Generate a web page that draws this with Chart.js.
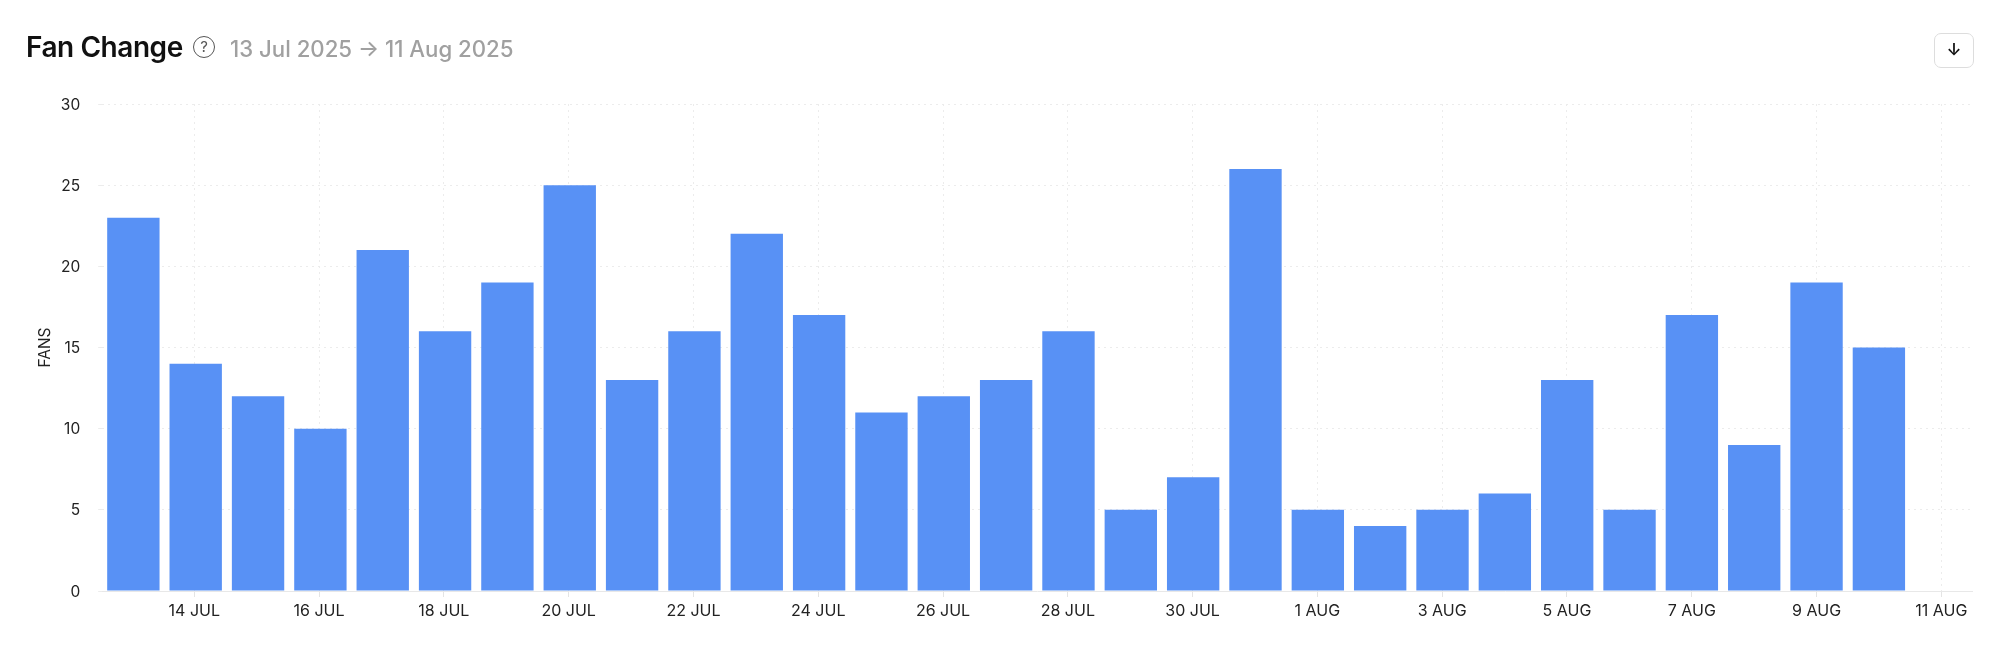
<!DOCTYPE html>
<html>
<head>
<meta charset="utf-8">
<title>Fan Change</title>
<script src="https://cdn.jsdelivr.net/npm/chart.js@4"></script>
<style>
html, body { margin: 0; padding: 0; background: #fff; }
body { width: 2000px; height: 648px; position: relative; overflow: hidden; font-family: Inter, sans-serif; }
#grafik { position: absolute; left: 0; top: 0; }
.judul { position: absolute; left: 26px; top: 28px; font-size: 28px; line-height: 38px; font-weight: 600; color: #111; letter-spacing: -0.45px; }
.bantuan { position: absolute; left: 193px; top: 36px; width: 20px; height: 20px; border: 1.5px solid #555; border-radius: 50%; font-size: 15px; line-height: 20px; text-align: center; color: #555; }
.rentang { position: absolute; left: 230px; top: 32px; font-size: 22.2px; line-height: 34px; font-weight: 500; color: #a0a0a0; }
.unduh { position: absolute; left: 1934px; top: 33px; width: 38px; height: 33px; border: 1.5px solid #ddd; border-radius: 7px; font-size: 17px; line-height: 33px; text-align: center; color: #111; font-weight: 600; }
</style>
</head>
<body>
<canvas id="grafik" width="2000" height="648"></canvas>
<div class="judul">Fan Change</div>
<div class="bantuan">?</div>
<div class="rentang">13 Jul 2025 → 11 Aug 2025</div>
<div class="unduh">↓</div>
<script>
const tanggal = ['13 JUL','14 JUL','15 JUL','16 JUL','17 JUL','18 JUL','19 JUL','20 JUL','21 JUL','22 JUL',
    '23 JUL','24 JUL','25 JUL','26 JUL','27 JUL','28 JUL','29 JUL','30 JUL','31 JUL','1 AUG',
    '2 AUG','3 AUG','4 AUG','5 AUG','6 AUG','7 AUG','8 AUG','9 AUG','10 AUG','11 AUG'];
const fans = [23,14,12,10,21,16,19,25,13,16,22,17,11,12,13,16,5,7,26,5,4,5,6,13,5,17,9,19,15,null];

document.addEventListener('DOMContentLoaded', function(){
    new Chart(document.getElementById('grafik'), {
        type: 'bar',
        data: {
            labels: tanggal,
            datasets: [{
                label: 'Fans',
                data: fans,
                backgroundColor: '#5891f5',
                categoryPercentage: 1,
                barPercentage: 0.84
            }]
        },
        options: {
            responsive: false,
            animation: false,
            layout: { padding: { left: 0, right: 27.6, top: 104, bottom: 0 } },
            plugins: { legend: { display: false }, tooltip: { enabled: false } },
            scales: {
                x: {
                    // every 2nd day, ticks drift a little from the bar centres on the left side
                    afterBuildTicks: (s) => {
                        s.ticks = s.ticks.filter(t => t.value % 2 == 1)
                            .map(t => ({ value: t.value - 0.024 + 0.0009 * t.value }));
                    },
                    afterFit: (s) => { s.height = 57; },
                    grid: { offset: false, color: '#ececec', tickColor: '#e4e4e4', tickBorderDash: [], tickLength: 6 },
                    border: { color: '#e8e8e8', dash: [2, 4] },
                    ticks: { autoSkip: false, maxRotation: 0, padding: 5, color: '#222', font: { family: 'Inter', size: 16 },
                        callback: function(v){ return tanggal[Math.round(v)]; } }
                },
                y: {
                    min: 0,
                    max: 30,
                    afterFit: (s) => { s.width = 102.2; },
                    grid: { color: '#ececec', tickLength: 4 },
                    border: { display: false, dash: [2, 4] },
                    ticks: { stepSize: 5, padding: 18, labelOffset: 1, color: '#222', font: { family: 'Inter', size: 15.5 } },
                    title: { display: true, text: 'FANS', color: '#222', font: { family: 'Inter', size: 15.5 }, padding: { top: 36, bottom: 0 } }
                }
            }
        }
    });
});
</script>
</body>
</html>
